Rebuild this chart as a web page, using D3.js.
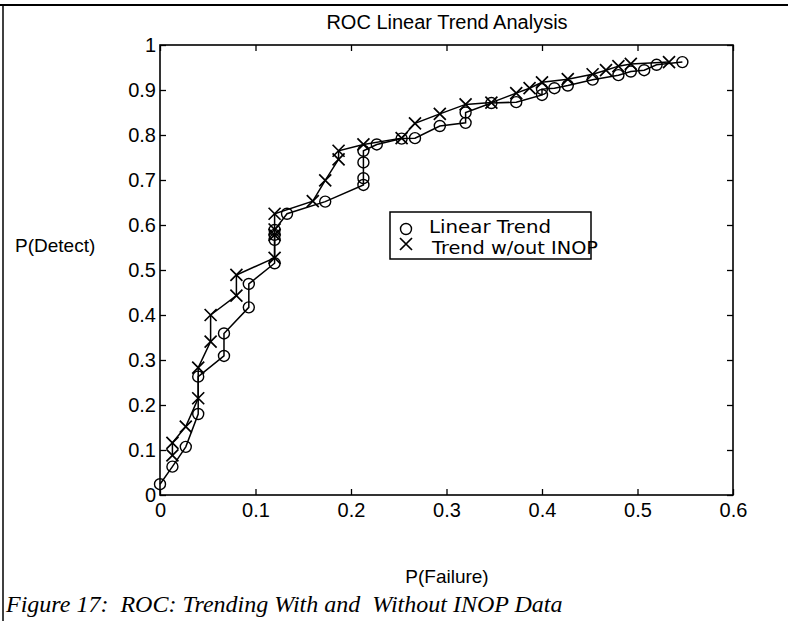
<!DOCTYPE html>
<html>
<head>
<meta charset="utf-8">
<script src="https://cdn.jsdelivr.net/npm/d3@7/dist/d3.min.js"></script>
<style>
  html, body { margin: 0; padding: 0; background: #fff; }
  svg { display: block; }
</style>
</head>
<body>
<svg id="chart" width="788" height="621"></svg>
<script>
// ---- data ----
const title = "ROC Linear Trend Analysis";
const xLabel = "P(Failure)";
const yLabel = "P(Detect)";
const caption = "Figure 17:  ROC: Trending With and  Without INOP Data";
const seriesNames = ["Linear Trend", "Trend w/out INOP"];

const xTicks = [0, 0.1, 0.2, 0.3, 0.4, 0.5, 0.6];
const yTicks = [0, 0.1, 0.2, 0.3, 0.4, 0.5, 0.6, 0.7, 0.8, 0.9, 1];

// Linear Trend (circles): P(Failure), P(Detect)
const linearFail = [0, 0.013, 0.027, 0.04, 0.04, 0.067, 0.067, 0.093, 0.093, 0.12, 0.12, 0.12, 0.12,
  0.133, 0.173, 0.213, 0.213, 0.213, 0.213, 0.227, 0.253, 0.267, 0.293, 0.32, 0.32, 0.347, 0.373,
  0.4, 0.4, 0.413, 0.427, 0.453, 0.48, 0.493, 0.507, 0.52, 0.547];
const linearDetect = [0.024, 0.063, 0.107, 0.18, 0.263, 0.309, 0.359, 0.417, 0.469, 0.515, 0.567, 0.578, 0.589,
  0.625, 0.652, 0.689, 0.704, 0.739, 0.765, 0.779, 0.792, 0.793, 0.82, 0.827, 0.85, 0.871, 0.873,
  0.889, 0.902, 0.904, 0.91, 0.923, 0.933, 0.941, 0.944, 0.956, 0.962];

// Trend w/out INOP (crosses)
const noInopFail = [0.013, 0.013, 0.027, 0.04, 0.04, 0.053, 0.053, 0.08, 0.08, 0.12, 0.12, 0.12, 0.12,
  0.16, 0.173, 0.187, 0.187, 0.213, 0.253, 0.267, 0.293, 0.32, 0.347, 0.373, 0.387, 0.4, 0.427,
  0.453, 0.467, 0.48, 0.493, 0.533];
const noInopDetect = [0.088, 0.116, 0.152, 0.215, 0.283, 0.341, 0.4, 0.443, 0.489, 0.527, 0.578, 0.59, 0.625,
  0.653, 0.699, 0.746, 0.765, 0.779, 0.793, 0.826, 0.847, 0.868, 0.872, 0.893, 0.904, 0.917, 0.924,
  0.935, 0.944, 0.953, 0.958, 0.962];

// ---- drawing ----
const svg = d3.select("#chart");
const W = 788, H = 621;
const plot = { left: 160, top: 45, right: 733, bottom: 495 };

svg.append("rect").attr("width", W).attr("height", H).attr("fill", "#fff");

// outer frame (top and left rule of the figure)
svg.append("line").attr("x1", 0).attr("x2", W).attr("y1", 5).attr("y2", 5)
  .attr("stroke", "#000").attr("stroke-width", 2);
svg.append("line").attr("x1", 3).attr("x2", 3).attr("y1", 5).attr("y2", H)
  .attr("stroke", "#000").attr("stroke-width", 1.5);

const x = d3.scaleLinear().domain([0, 0.6]).range([plot.left, plot.right]);
const y = d3.scaleLinear().domain([0, 1]).range([plot.bottom, plot.top]);

const fontSans = "'Liberation Sans', Arial, Helvetica, sans-serif";

function styleAxis(g) {
  g.selectAll(".domain").remove();
  g.selectAll(".tick line").attr("stroke", "#000").attr("stroke-width", 1.3);
  g.selectAll("text").attr("fill", "#000").style("font-family", fontSans).style("font-size", "20px");
}

svg.append("g").attr("transform", `translate(0,${plot.bottom})`)
  .call(d3.axisBottom(x).tickValues(xTicks).tickFormat(d3.format("")).tickSizeInner(-6).tickSizeOuter(0).tickPadding(8))
  .call(styleAxis);
svg.append("g").attr("transform", `translate(0,${plot.top})`)
  .call(d3.axisTop(x).tickValues(xTicks).tickFormat("").tickSizeInner(-6).tickSizeOuter(0))
  .call(styleAxis);
svg.append("g").attr("transform", `translate(${plot.left},0)`)
  .call(d3.axisLeft(y).tickValues(yTicks).tickFormat(d3.format("")).tickSizeInner(-6).tickSizeOuter(0).tickPadding(4))
  .call(styleAxis);
svg.append("g").attr("transform", `translate(${plot.right},0)`)
  .call(d3.axisRight(y).tickValues(yTicks).tickFormat("").tickSizeInner(-6).tickSizeOuter(0))
  .call(styleAxis);

// plot box
svg.append("rect")
  .attr("x", plot.left).attr("y", plot.top)
  .attr("width", plot.right - plot.left).attr("height", plot.bottom - plot.top)
  .attr("fill", "none").attr("stroke", "#000").attr("stroke-width", 1.6);

const line = d3.line().x(d => x(d[0])).y(d => y(d[1]));
const linearPts = linearFail.map((v, i) => [v, linearDetect[i]]);
const noInopPts = noInopFail.map((v, i) => [v, noInopDetect[i]]);

const crossPath = "M-6,-6L6,6M-6,6L6,-6";

[linearPts, noInopPts].forEach(pts => {
  svg.append("path").datum(pts).attr("d", line)
    .attr("fill", "none").attr("stroke", "#000").attr("stroke-width", 1.5);
});

svg.append("g").selectAll("circle").data(linearPts).join("circle")
  .attr("cx", d => x(d[0])).attr("cy", d => y(d[1])).attr("r", 5.5)
  .attr("fill", "none").attr("stroke", "#000").attr("stroke-width", 1.4);

svg.append("g").selectAll("path").data(noInopPts).join("path")
  .attr("transform", d => `translate(${x(d[0])},${y(d[1])})`)
  .attr("d", crossPath)
  .attr("fill", "none").attr("stroke", "#000").attr("stroke-width", 1.7);

// title and axis labels
svg.append("text").attr("x", 447).attr("y", 29).attr("text-anchor", "middle")
  .style("font-family", fontSans).style("font-size", "20px").attr("fill", "#000").text(title);
svg.append("text").attr("x", 447).attr("y", 583).attr("text-anchor", "middle")
  .style("font-family", fontSans).style("font-size", "19px").attr("fill", "#000").text(xLabel);
svg.append("text").attr("x", 15).attr("y", 252)
  .style("font-family", fontSans).style("font-size", "19px").attr("fill", "#000").text(yLabel);

// legend
const leg = svg.append("g");
leg.append("rect").attr("x", 390).attr("y", 212).attr("width", 201).attr("height", 47)
  .attr("fill", "#fff").attr("stroke", "#000").attr("stroke-width", 1.5);
leg.append("circle").attr("cx", 406).attr("cy", 229).attr("r", 5.5)
  .attr("fill", "none").attr("stroke", "#000").attr("stroke-width", 1.4);
leg.append("path").attr("transform", "translate(406,244)").attr("d", crossPath)
  .attr("fill", "none").attr("stroke", "#000").attr("stroke-width", 1.7);
const legFont = "'DejaVu Sans', Verdana, sans-serif";
leg.append("text").attr("x", 429).attr("y", 233).style("font-family", legFont).style("font-size", "17px")
  .attr("textLength", 122).attr("lengthAdjust", "spacingAndGlyphs")
  .attr("fill", "#000").text(seriesNames[0]);
leg.append("text").attr("x", 432).attr("y", 254).style("font-family", legFont).style("font-size", "17px")
  .attr("textLength", 166).attr("lengthAdjust", "spacingAndGlyphs")
  .attr("fill", "#000").text(seriesNames[1]);

// caption
svg.append("text").attr("x", 6).attr("y", 612)
  .style("font-family", "'Liberation Serif', 'Times New Roman', serif").style("font-style", "italic")
  .style("font-size", "24px").style("white-space", "pre").attr("fill", "#000").text(caption);
</script>
</body>
</html>
